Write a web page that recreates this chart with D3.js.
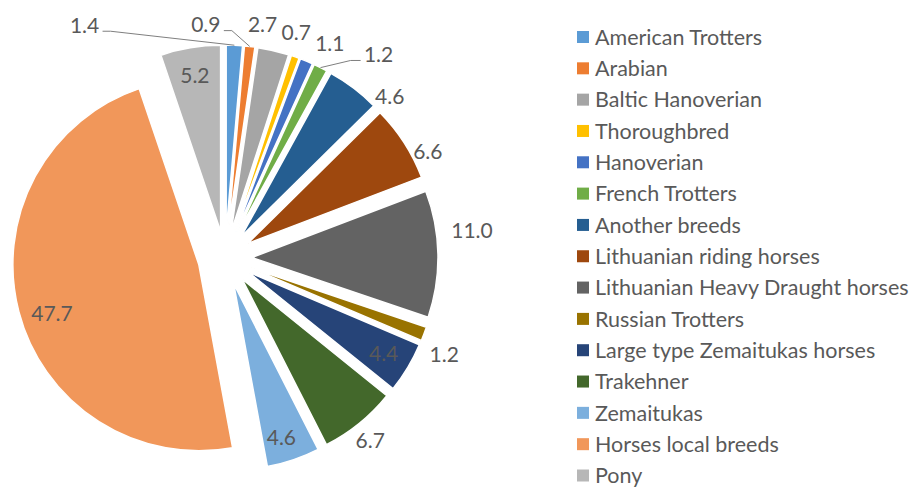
<!DOCTYPE html>
<html>
<head>
<meta charset="utf-8">
<script src="https://cdn.jsdelivr.net/npm/d3@7"></script>
<style>
  body { margin: 0; background: #fff; }
  text { font-family: Lato, "Liberation Sans", sans-serif; fill: #595959; }
</style>
</head>
<body>
<div id="chart"></div>
<script>
'use strict';

// breed shares (%), in pie order (clockwise from 12 o'clock)
var breeds = [
  'American Trotters', 'Arabian', 'Baltic Hanoverian', 'Thoroughbred', 'Hanoverian',
  'French Trotters', 'Another breeds', 'Lithuanian riding horses',
  'Lithuanian Heavy Draught horses', 'Russian Trotters', 'Large type Zemaitukas horses',
  'Trakehner', 'Zemaitukas', 'Horses local breeds', 'Pony'
];
var shares = [1.4, 0.9, 2.7, 0.7, 1.1, 1.2, 4.6, 6.6, 11.0, 1.2, 4.4, 6.7, 4.6, 47.7, 5.2];
var colors = [
  '#5b9bd5', '#ed7d31', '#a5a5a5', '#ffc000', '#4472c4',
  '#70ad47', '#255e91', '#9e480e', '#636363', '#997300',
  '#264478', '#43682b', '#7cafdd', '#f1975a', '#b7b7b7'
];

// label layout (excel moved a few of them by hand)
var insideLabels = ['Large type Zemaitukas horses', 'Zemaitukas', 'Horses local breeds', 'Pony'];
var leaderLabels = ['American Trotters', 'Arabian', 'French Trotters'];
var labelNudge = {
  'American Trotters': [-151, 7],
  'Arabian': [-47, 5],
  'Baltic Hanoverian': [-17, 0],
  'Thoroughbred': [-8, 1.5],
  'Hanoverian': [13, 7],
  'French Trotters': [46, 11],
  'Another breeds': [20, 30],
  'Lithuanian riding horses': [1, 23],
  'Lithuanian Heavy Draught horses': [7, -23.5],
  'Russian Trotters': [-5, 10.5],
  'Trakehner': [-6, -4],
  'Horses local breeds': [6, 9],
  'Zemaitukas': [-3, 4]
};

var width = 912, height = 488;
var cx = 225, cy = 258, radius = 186, explode = 27;

var data = breeds.map(function(d, i) {
  return {name: d, value: shares[i], color: colors[i]};
});

var svg = d3.select('#chart').append('svg')
  .attr('width', width)
  .attr('height', height);

var pie = d3.pie()
  .sort(null)
  .value(function(d) { return d.value; });

var arc = d3.arc()
  .innerRadius(0)
  .outerRadius(radius);

var arcs = pie(data);

function mid(d) { return (d.startAngle + d.endAngle) / 2; }
function polar(a, r) { return [cx + r * Math.sin(a), cy - r * Math.cos(a)]; }

var slices = svg.append('g').attr('class', 'slices');

slices.selectAll('path')
  .data(arcs)
  .enter()
  .append('path')
  .attr('transform', function(d) {
    var p = polar(mid(d), explode);
    return 'translate(' + p[0] + ',' + p[1] + ')';
  })
  .attr('d', arc)
  .attr('fill', function(d) { return d.data.color; })
  .attr('stroke', '#fff')
  .attr('stroke-width', 1.5)
  .attr('stroke-linejoin', 'round');

// label positions
arcs.forEach(function(d) {
  var inside = insideLabels.indexOf(d.data.name) >= 0;
  var p = polar(mid(d), inside ? explode + 158 : 240);
  var n = labelNudge[d.data.name] || [0, 0];
  d.lx = p[0] + n[0];
  d.ly = p[1] + n[1];
  d.edge = polar(mid(d), explode + radius);
});

var labels = svg.append('g').attr('class', 'labels');

labels.selectAll('text')
  .data(arcs)
  .enter()
  .append('text')
  .attr('x', function(d) { return d.lx; })
  .attr('y', function(d) { return d.ly; })
  .attr('dy', '0.36em')
  .attr('text-anchor', 'middle')
  .style('font-size', '21px')
  .text(function(d) { return d3.format('.1f')(d.data.value); });

// leader lines for the labels that were pulled away
var line = d3.line();
labels.selectAll('path')
  .data(arcs.filter(function(d) { return leaderLabels.indexOf(d.data.name) >= 0; }))
  .enter()
  .append('path')
  .attr('fill', 'none')
  .attr('stroke', '#7f7f7f')
  .attr('stroke-width', 1)
  .attr('d', function(d) {
    var left = d.lx < d.edge[0];
    var x0 = d.lx + (left ? 18 : -18);
    var y0 = d.ly + 6;
    var x1 = x0 + (left ? 8 : -10);
    return line([[x0, y0], [x1, y0], d.edge]);
  });

// legend
var row = d3.scalePoint()
  .domain(breeds)
  .range([37, 475.5]);

var legend = svg.append('g').attr('class', 'legend');

var item = legend.selectAll('g')
  .data(data)
  .enter()
  .append('g')
  .attr('transform', function(d) { return 'translate(577,' + row(d.name) + ')'; });

item.append('rect')
  .attr('x', 0)
  .attr('y', -6)
  .attr('width', 12)
  .attr('height', 12)
  .attr('fill', function(d) { return d.color; });

item.append('text')
  .attr('x', 18)
  .attr('dy', '0.36em')
  .style('font-size', '21.5px')
  .text(function(d) { return d.name; });
</script>
</body>
</html>
